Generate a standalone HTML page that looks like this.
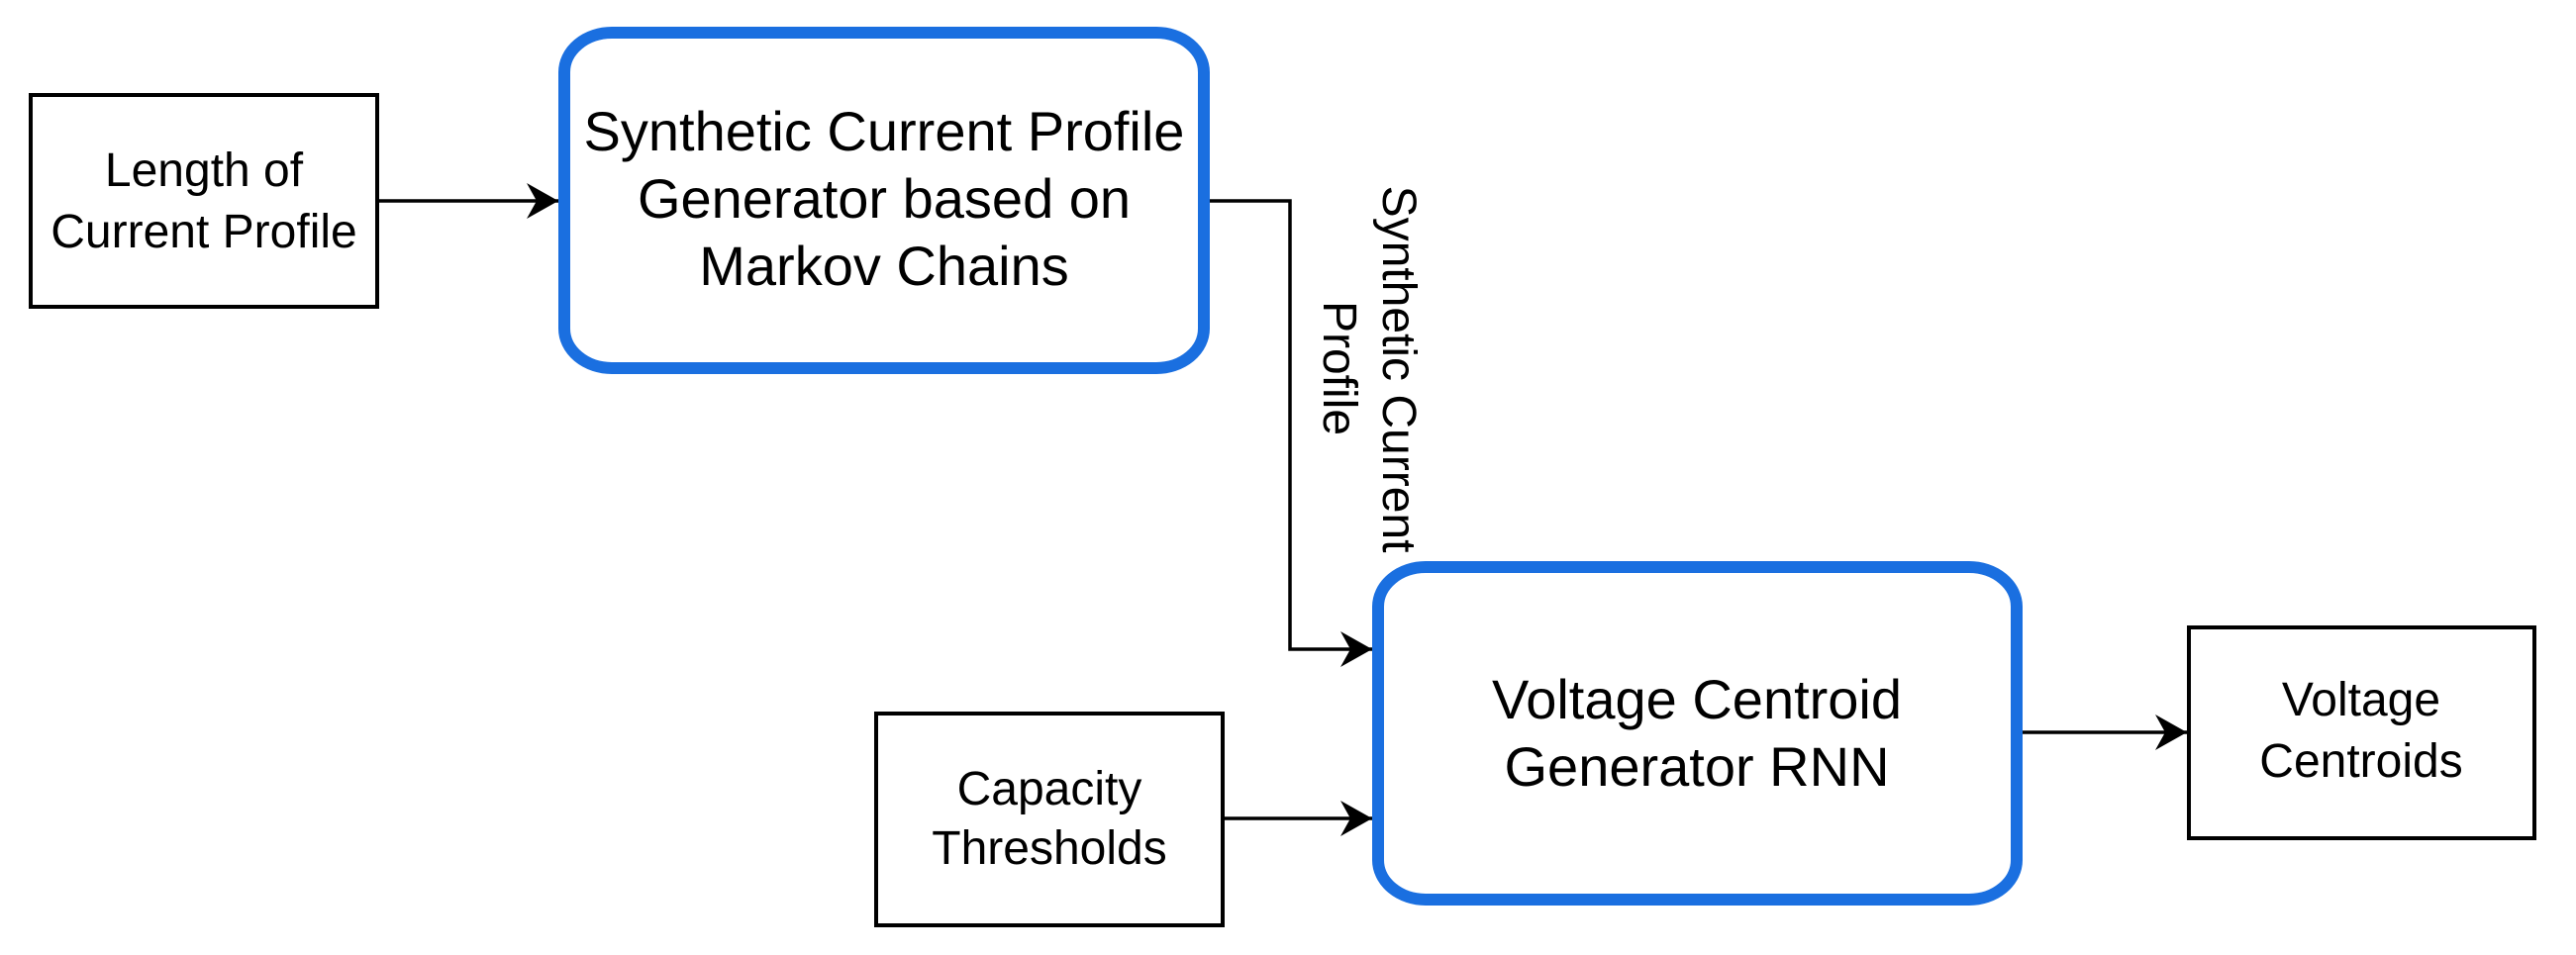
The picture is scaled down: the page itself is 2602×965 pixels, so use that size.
<!DOCTYPE html>
<html><head><meta charset="utf-8"><style>html,body{margin:0;padding:0;background:#fff}svg{display:block}text{font-family:"Liberation Sans",Arial,sans-serif;fill:#000}</style></head>
<body>
<svg width="2602" height="965" viewBox="0 0 2602 965" xmlns="http://www.w3.org/2000/svg">
<defs>
<marker id="a" markerUnits="userSpaceOnUse" markerWidth="40" markerHeight="40" refX="32" refY="18" orient="auto">
<path d="M0,0 L32,18 L0,36 L10,18 Z" fill="#000"/>
</marker>
</defs>
<g fill="none" stroke="#000" stroke-width="4">
<rect x="31" y="96" width="350" height="214"/>
<rect x="885" y="721" width="350" height="214"/>
<rect x="2211" y="634" width="349" height="213"/>
</g>
<g fill="none" stroke="#1a6fe0" stroke-width="12">
<rect x="570" y="33" width="646" height="339" rx="48" ry="40"/>
<rect x="1392" y="573" width="645" height="336" rx="48" ry="40"/>
</g>
<g fill="none" stroke="#000" stroke-width="3.5">
<line x1="383" y1="203" x2="564" y2="203" marker-end="url(#a)"/>
<polyline points="1222,203 1303,203 1303,656 1386,656" marker-end="url(#a)"/>
<line x1="1237" y1="827" x2="1386" y2="827" marker-end="url(#a)"/>
<line x1="2043" y1="740" x2="2209" y2="740" marker-end="url(#a)"/>
</g>
<g text-anchor="middle" font-size="48">
<text x="206" y="188">Length of</text>
<text x="206" y="250">Current Profile</text>
<text x="1060" y="813">Capacity</text>
<text x="1060" y="873">Thresholds</text>
<text x="2385" y="723">Voltage</text>
<text x="2385" y="785">Centroids</text>
</g>
<g text-anchor="middle" font-size="56">
<text x="893" y="152">Synthetic Current Profile</text>
<text x="893" y="220">Generator based on</text>
<text x="893" y="288">Markov Chains</text>
<text x="1714" y="726">Voltage Centroid</text>
<text x="1714" y="794">Generator RNN</text>
</g>
<g font-size="48" text-anchor="middle">
<text transform="translate(1397,373) rotate(90)">Synthetic Current</text>
<text transform="translate(1337,372) rotate(90)">Profile</text>
</g>
</svg>
</body></html>
